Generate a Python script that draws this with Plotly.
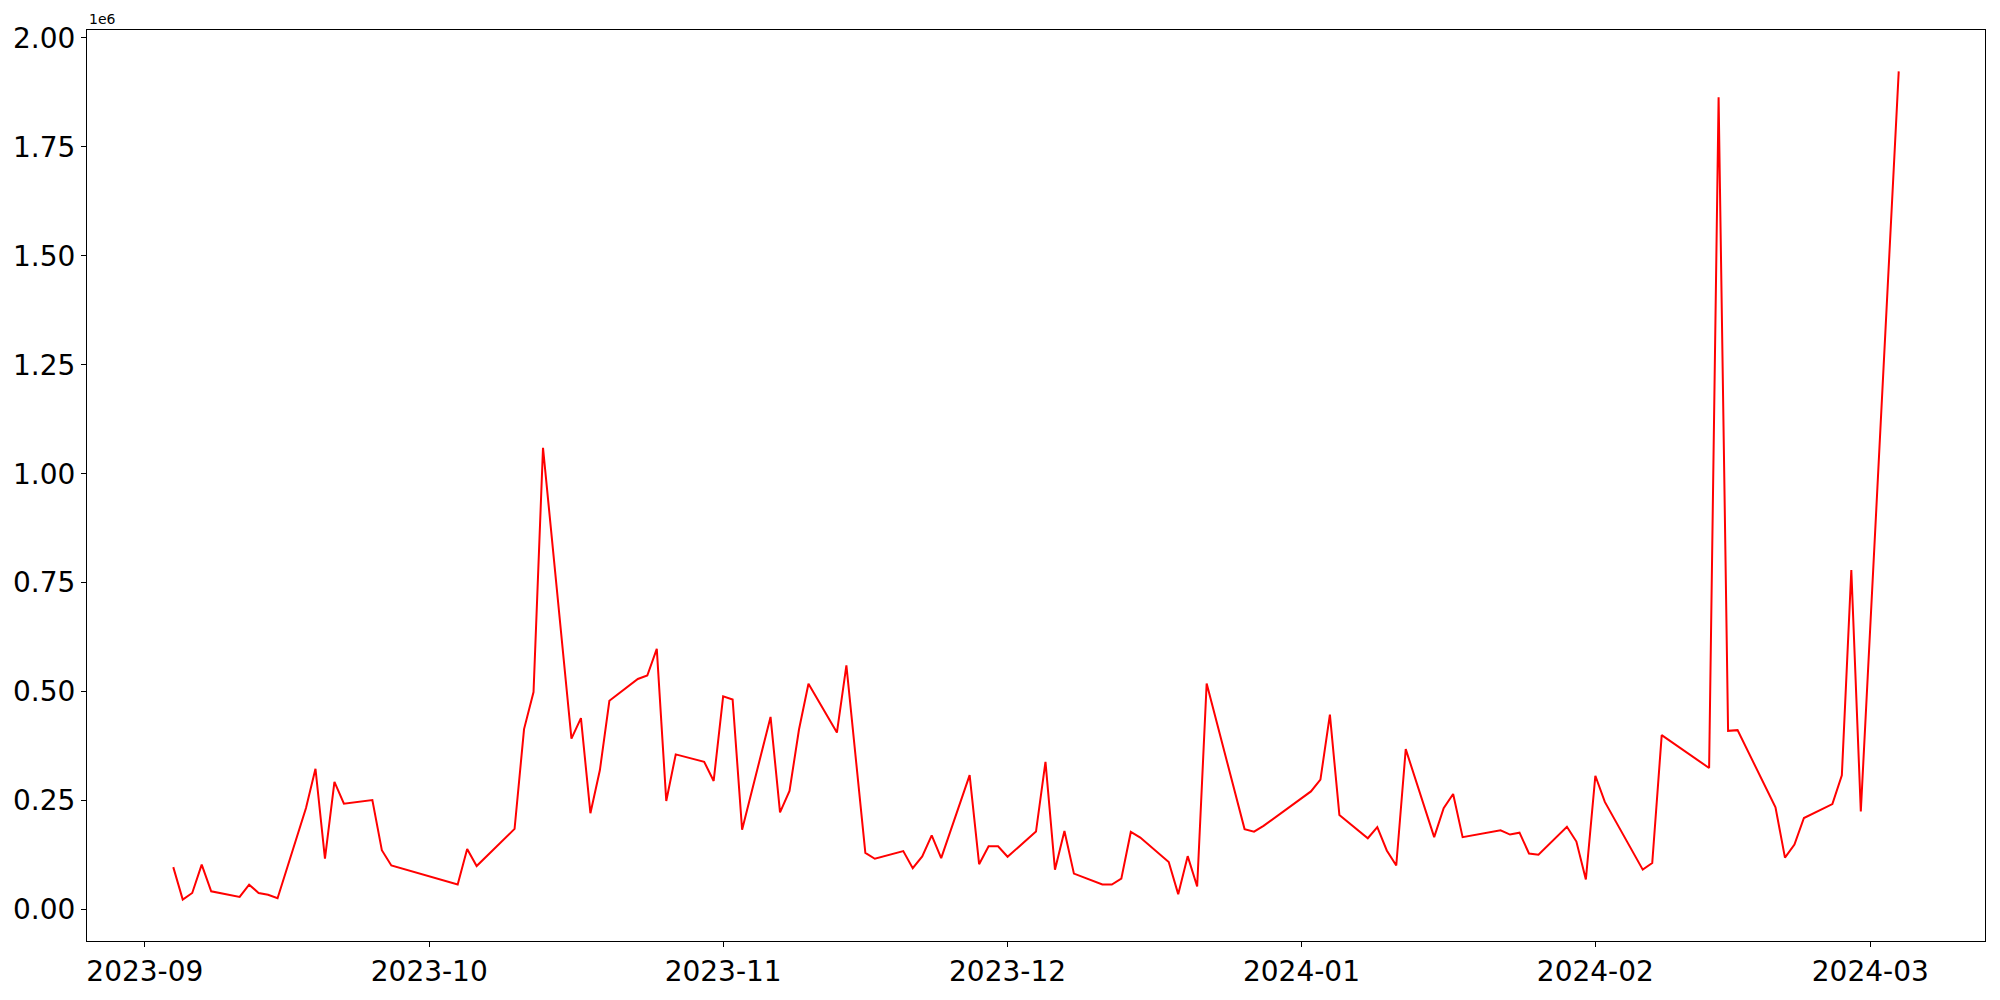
import plotly.graph_objects as go
import pandas as pd

dates = [
    "2023-09-04", "2023-09-05", "2023-09-06", "2023-09-07", "2023-09-08",
    "2023-09-11", "2023-09-12", "2023-09-13", "2023-09-14", "2023-09-15",
    "2023-09-18", "2023-09-19", "2023-09-20", "2023-09-21", "2023-09-22",
    "2023-09-25", "2023-09-26", "2023-09-27",
    "2023-10-04", "2023-10-05", "2023-10-06",
    "2023-10-10", "2023-10-11", "2023-10-12", "2023-10-13",
    "2023-10-16", "2023-10-17", "2023-10-18", "2023-10-19", "2023-10-20",
    "2023-10-23", "2023-10-24", "2023-10-25", "2023-10-26", "2023-10-27",
    "2023-10-30", "2023-10-31", "2023-11-01", "2023-11-02", "2023-11-03",
    "2023-11-06", "2023-11-07", "2023-11-08", "2023-11-09", "2023-11-10",
    "2023-11-13", "2023-11-14", "2023-11-16", "2023-11-17",
    "2023-11-20", "2023-11-21", "2023-11-22", "2023-11-23", "2023-11-24",
    "2023-11-27", "2023-11-28", "2023-11-29", "2023-11-30", "2023-12-01",
    "2023-12-04", "2023-12-05", "2023-12-06", "2023-12-07", "2023-12-08",
    "2023-12-11", "2023-12-12", "2023-12-13", "2023-12-14", "2023-12-15",
    "2023-12-18", "2023-12-19", "2023-12-20", "2023-12-21", "2023-12-22",
    "2023-12-26", "2023-12-27", "2023-12-28",
    "2024-01-02", "2024-01-03", "2024-01-04", "2024-01-05",
    "2024-01-08", "2024-01-09", "2024-01-10", "2024-01-11", "2024-01-12",
    "2024-01-15", "2024-01-16", "2024-01-17", "2024-01-18",
    "2024-01-22", "2024-01-23", "2024-01-24", "2024-01-25", "2024-01-26",
    "2024-01-29", "2024-01-30", "2024-01-31", "2024-02-01", "2024-02-02",
    "2024-02-06", "2024-02-07", "2024-02-08",
    "2024-02-13", "2024-02-14", "2024-02-15", "2024-02-16",
    "2024-02-20", "2024-02-21", "2024-02-22", "2024-02-23",
    "2024-02-26", "2024-02-27", "2024-02-28", "2024-02-29",
    "2024-03-04",
]

values = [
    97300, 22800, 38000, 103000, 41700,
    28900, 57000, 38000, 34000, 25800,
    233000, 323000, 117000, 293000, 243000,
    251000, 136000, 101000,
    57400, 139000, 99700,
    185000, 414000, 499000, 1059500,
    392000, 439000, 221000, 320000, 479000,
    529000, 537000, 598000, 249000, 356000,
    339000, 295000, 489000, 482000, 183000,
    442000, 223000, 272000, 413000, 518000,
    406000, 560000, 130000, 116500,
    134000, 95000, 122000, 170000, 118000,
    308500, 104000, 145000, 145000, 121000,
    179000, 339000, 91500, 180000, 82400,
    57400, 57400, 71000, 178000, 165000,
    109000, 35300, 122500, 52800, 518600,
    184500, 178700, 192000,
    271000, 298000, 447000, 217000,
    163500, 189000, 135500, 101000, 368000,
    166000, 232600, 265000, 166000,
    181700, 172000, 176400, 128600, 125700,
    190000, 156000, 69000, 307000, 247000,
    91500, 106800, 400000,
    324700, 1863600, 410000, 411600,
    234700, 119000, 149000, 210000,
    242000, 307800, 779000, 225000,
    1923000,
]

y_tick_vals = [0, 250000, 500000, 750000, 1000000, 1250000, 1500000, 1750000, 2000000]
y_tick_text = ["0.00", "0.25", "0.50", "0.75", "1.00", "1.25", "1.50", "1.75", "2.00"]
offset_label = "1e6"

# matplotlib-like 5% margins
ts = pd.to_datetime(dates)
tmin, tmax = ts.min(), ts.max()
tpad = (tmax - tmin) * 0.05
x_range = [tmin - tpad, tmax + tpad]
vmin, vmax = min(values), max(values)
vpad = (vmax - vmin) * 0.05
y_range = [vmin - vpad, vmax + vpad]

FONT = "DejaVu Sans"

fig = go.Figure(
    go.Scatter(
        x=dates, y=values, mode="lines",
        line=dict(color="#ff0000", width=2),
        showlegend=False,
    )
)

fig.update_layout(
    width=2000, height=1000,
    margin=dict(l=87, r=15, t=30, b=53),
    paper_bgcolor="white", plot_bgcolor="white",
    font=dict(family=FONT, size=28, color="black"),
)

fig.update_xaxes(
    type="date", range=x_range,
    tickformat="%Y-%m", dtick="M1", tick0="2023-09-01",
    ticks="outside", ticklen=5, tickwidth=1.1, tickcolor="black",
    showline=True, linecolor="black", linewidth=1.1, mirror=True,
    showgrid=False, zeroline=False,
    tickfont=dict(family=FONT, size=28, color="black"),
)
fig.update_yaxes(
    range=y_range,
    tickvals=y_tick_vals, ticktext=y_tick_text,
    ticks="outside", ticklen=5, tickwidth=1.1, tickcolor="black",
    showline=True, linecolor="black", linewidth=1.1, mirror=True,
    showgrid=False, zeroline=False,
    tickfont=dict(family=FONT, size=28, color="black"),
)

fig.add_annotation(
    text=offset_label, xref="paper", yref="paper", x=0, y=1,
    xanchor="left", yanchor="bottom", showarrow=False, yshift=1,
    font=dict(family=FONT, size=14, color="black"),
)

fig.write_html(
    "out.html",
    config={"displayModeBar": False},
    post_script="document.body.style.margin='0';",
)
